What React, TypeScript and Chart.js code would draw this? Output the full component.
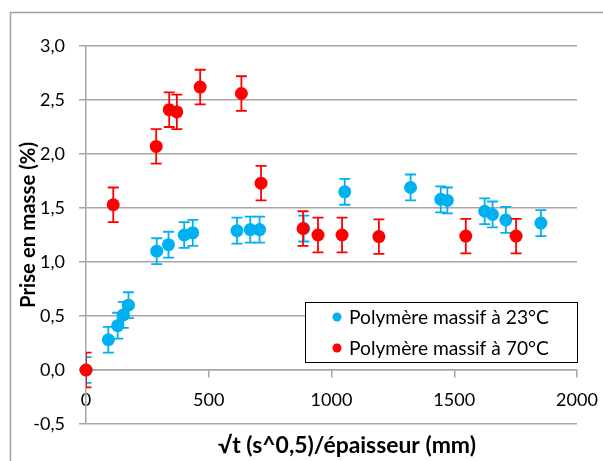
import React, { useEffect, useRef } from 'react';
import { Chart, registerables } from 'chart.js';

Chart.register(...registerables);

// ---- data ----
const xTickValues = [0, 500, 1000, 1500, 2000];
const yTickValues = [-0.5, 0, 0.5, 1.0, 1.5, 2.0, 2.5, 3.0];

const xTitle = '√t (s^0,5)/épaisseur (mm)';
const yTitle = 'Prise en masse (%)';

const label23 = 'Polymère massif à 23°C';
const x23 = [0, 91, 129, 152, 173, 288, 336, 400, 435, 615, 669, 707, 887, 1054, 1322, 1445, 1472, 1624, 1656, 1710, 1853];
const y23 = [0, 0.28, 0.41, 0.51, 0.60, 1.10, 1.16, 1.25, 1.27, 1.29, 1.30, 1.30, 1.31, 1.65, 1.69, 1.58, 1.57, 1.47, 1.44, 1.39, 1.36];
const err23 = [0.12, 0.12, 0.12, 0.12, 0.12, 0.12, 0.12, 0.12, 0.12, 0.12, 0.12, 0.12, 0.12, 0.12, 0.12, 0.12, 0.12, 0.12, 0.12, 0.12, 0.12];

const label70 = 'Polymère massif à 70°C';
const x70 = [0, 111, 286, 339, 370, 465, 633, 713, 884, 945, 1043, 1193, 1547, 1752];
const y70 = [0, 1.53, 2.07, 2.41, 2.39, 2.62, 2.56, 1.73, 1.31, 1.25, 1.25, 1.235, 1.24, 1.24];
const err70 = [0.16, 0.16, 0.16, 0.16, 0.16, 0.16, 0.16, 0.16, 0.16, 0.16, 0.16, 0.16, 0.16, 0.16];

const BLUE = '#00b0f0';
const RED = '#ff0000';
const GRID = '#a6a6a6';
const FONT = 'Lato';

const errorsByDataset = [err23, err70];

// pick a font size so that the text spans the wanted width
function fitFont(ctx: CanvasRenderingContext2D, text: string, weight: string, width: number) {
  const base = 20;
  ctx.font = `${weight} ${base}px ${FONT}`;
  const w = ctx.measureText(text).width;
  const size = (base * width) / w;
  ctx.font = `${weight} ${size}px ${FONT}`;
}

const errorBarPlugin = {
  id: 'errorBars',
  beforeDatasetDraw(chart: any, args: any) {
    const idx = args.index;
    const ds = chart.data.datasets[idx];
    const errs = errorsByDataset[idx];
    const xs = chart.scales.x;
    const ys = chart.scales.y;
    const area = chart.chartArea;
    const ctx = chart.ctx;
    ctx.save();
    ctx.beginPath();
    ctx.rect(area.left, area.top, area.right - area.left, area.bottom - area.top);
    ctx.clip();
    ctx.strokeStyle = ds.borderColor;
    ctx.lineWidth = 1.8;
    const cap = 5.5;
    ds.data.forEach((p: any, i: number) => {
      const px = xs.getPixelForValue(p.x);
      const top = ys.getPixelForValue(p.y + errs[i]);
      const bot = ys.getPixelForValue(p.y - errs[i]);
      ctx.beginPath();
      ctx.moveTo(px, top);
      ctx.lineTo(px, bot);
      ctx.moveTo(px - cap, top);
      ctx.lineTo(px + cap, top);
      ctx.moveTo(px - cap, bot);
      ctx.lineTo(px + cap, bot);
      ctx.stroke();
    });
    ctx.restore();
  },
};

const decorPlugin = {
  id: 'decor',
  afterDraw(chart: any) {
    const ctx = chart.ctx;
    ctx.save();
    // outer frame
    ctx.strokeStyle = '#a0a0a0';
    ctx.lineWidth = 1.5;
    ctx.beginPath();
    ctx.moveTo(10.5, 470);
    ctx.lineTo(10.5, 12.5);
    ctx.lineTo(610, 12.5);
    ctx.stroke();

    // axis titles
    ctx.fillStyle = '#000';
    ctx.textAlign = 'center';
    ctx.textBaseline = 'middle';
    fitFont(ctx, xTitle, 'bold', 258);
    ctx.fillText(xTitle, 347, 446);
    ctx.save();
    ctx.translate(28, 225);
    ctx.rotate(-Math.PI / 2);
    fitFont(ctx, yTitle, 'bold', 166);
    ctx.fillText(yTitle, 0, 0);
    ctx.restore();

    // legend
    const lx = 305.5, ly = 302.5, lw = 272, lh = 60;
    ctx.fillStyle = '#fff';
    ctx.fillRect(lx, ly, lw, lh);
    ctx.strokeStyle = '#000';
    ctx.lineWidth = 1;
    ctx.strokeRect(lx, ly, lw, lh);
    const items = [
      { label: label23, color: BLUE, y: 317 },
      { label: label70, color: RED, y: 348 },
    ];
    fitFont(ctx, label23, 'normal', 200);
    ctx.textAlign = 'left';
    ctx.textBaseline = 'middle';
    items.forEach((it) => {
      ctx.fillStyle = it.color;
      ctx.beginPath();
      ctx.arc(337, it.y, 4.5, 0, Math.PI * 2);
      ctx.fill();
      ctx.fillStyle = '#000';
      ctx.fillText(it.label, 349, it.y + 1);
    });
    ctx.restore();
  },
};

export default function App() {
  const canvasRef = useRef<HTMLCanvasElement | null>(null);

  useEffect(() => {
    if (!canvasRef.current) return;
    const chart = new Chart(canvasRef.current, {
      type: 'scatter',
      data: {
        datasets: [
          {
            label: label23,
            data: x23.map((x, i) => ({ x, y: y23[i] })),
            backgroundColor: BLUE,
            borderColor: BLUE,
            pointRadius: 6.5,
            pointHoverRadius: 6.5,
            borderWidth: 0,
            clip: false as any,
            order: 1,
          },
          {
            label: label70,
            data: x70.map((x, i) => ({ x, y: y70[i] })),
            backgroundColor: RED,
            borderColor: RED,
            pointRadius: 6.5,
            pointHoverRadius: 6.5,
            borderWidth: 0,
            clip: false as any,
            order: 0,
          },
        ],
      },
      options: {
        responsive: false,
        maintainAspectRatio: false,
        devicePixelRatio: 1,
        animation: false,
        events: [],
        layout: { padding: { left: 0, top: 46, right: 26, bottom: 37 } },
        plugins: {
          legend: { display: false },
          tooltip: { enabled: false },
          title: { display: false },
        },
        scales: {
          x: {
            type: 'linear',
            position: { y: 0 } as any,
            min: 0,
            max: 2000,
            afterBuildTicks: (scale: any) => {
              scale.ticks = xTickValues.map((v) => ({ value: v }));
            },
            afterFit: (scale: any) => {
              scale.paddingLeft = 0;
              scale.paddingRight = 0;
            },
            ticks: {
              color: '#000',
              font: { family: FONT, size: 18 },
              padding: 12,
              maxRotation: 0,
              callback: (v: any) => String(v),
            },
            grid: {
              display: true,
              drawOnChartArea: false,
              drawTicks: true,
              tickLength: 7,
              color: GRID,
              lineWidth: 1.5,
            },
            border: { display: true, color: GRID, width: 1.5 },
          },
          y: {
            type: 'linear',
            position: 'left',
            min: -0.5,
            max: 3.0,
            afterBuildTicks: (scale: any) => {
              scale.ticks = yTickValues.map((v) => ({ value: v }));
            },
            afterFit: (scale: any) => {
              scale.width = 86;
              scale.paddingTop = 0;
              scale.paddingBottom = 0;
            },
            ticks: {
              color: '#000',
              font: { family: FONT, size: 18 },
              padding: 14,
              callback: (v: any) => Number(v).toFixed(1).replace('.', ','),
            },
            grid: {
              display: true,
              drawOnChartArea: true,
              drawTicks: true,
              tickLength: 7,
              color: GRID,
              lineWidth: 1.5,
            },
            border: { display: true, color: GRID, width: 1.5 },
          },
        },
      },
      plugins: [errorBarPlugin, decorPlugin],
    });
    return () => chart.destroy();
  }, []);

  return (
    <div style={{ position: 'absolute', left: 0, top: 0, width: 603, height: 461, background: '#fff' }}>
      <canvas ref={canvasRef} width={603} height={461} style={{ display: 'block', width: 603, height: 461 }} />
    </div>
  );
}
